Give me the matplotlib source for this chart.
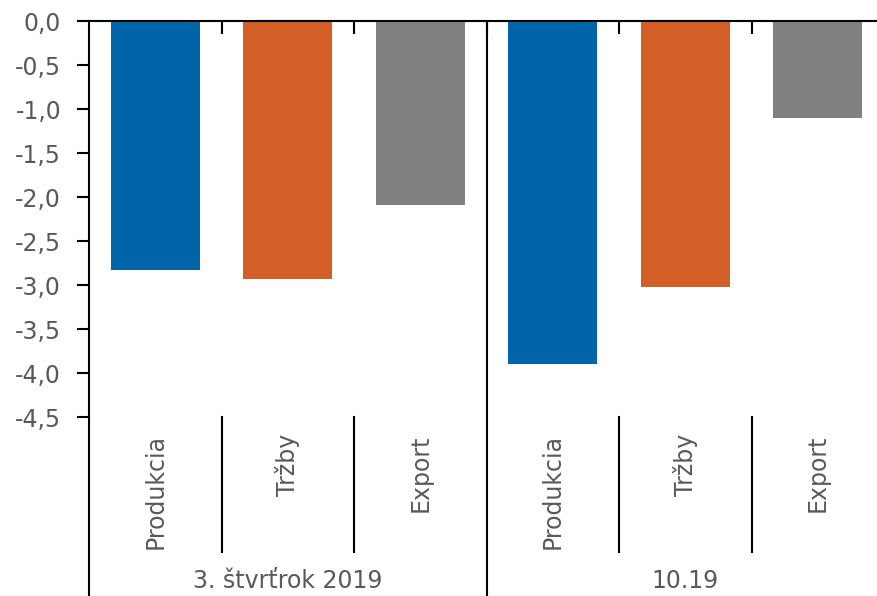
import matplotlib.pyplot as plt
from matplotlib.lines import Line2D

# hodnoty (medziročná zmena, %)
groups = ["3. štvrťrok 2019", "10.19"]
categories = ["Produkcia", "Tržby", "Export"]
values = [
    [-2.83, -2.93, -2.09],   # 3. štvrťrok 2019
    [-3.90, -3.02, -1.10],   # 10.19
]
colors = ["#0064A8", "#D35F27", "#808080"]
yticks = [0.0, -0.5, -1.0, -1.5, -2.0, -2.5, -3.0, -3.5, -4.0, -4.5]

W, H = 877, 596
fig = plt.figure(figsize=(W / 100, H / 100), dpi=100)
plt.rcParams['font.family'] = ['DejaVu Sans']
fs = 17

# os v pixeloch: vľavo 89, vpravo 884 (za okrajom), hore 21, dole 417
left, right, top, bottom = 89, 884, 21, 417
ax = fig.add_axes([left / W, 1 - bottom / H, (right - left) / W, (bottom - top) / H])

n = len(categories)
for g, vals in enumerate(values):
    for i, v in enumerate(vals):
        ax.bar(g * n + i, v, width=0.67, color=colors[i], zorder=2)

ax.set_xlim(-0.5, len(groups) * n - 0.5)
ax.set_ylim(-4.5, 0)

txt = "#595959"
ax.set_yticks(yticks)
ax.set_yticklabels([f"{t:.1f}".replace(".", ",") for t in yticks], color=txt, fontsize=fs)
ax.tick_params(axis="y", direction="out", length=9, width=1.5, pad=11)

# os x hore (nulová čiara), ryšky medzi kategóriami smerom dole
ax.xaxis.tick_top()
ax.set_xticks([k + 0.5 for k in range(len(groups) * n - 1)])
ax.set_xticklabels([])
ax.tick_params(axis="x", direction="in", length=9, width=1.5)

for s in ["right", "bottom"]:
    ax.spines[s].set_visible(False)
ax.spines["top"].set_linewidth(1.5)
ax.spines["left"].set_linewidth(1.5)

# ľavá os pokračuje až po spodok obrázka
tr = ax.get_xaxis_transform()
y_px = lambda p: 1 - (p - top) / (bottom - top)
ax.add_line(Line2D([-0.5, -0.5], [0, y_px(H)], transform=tr, color="black",
                   lw=1.5, clip_on=False))

# deliace čiary kategórií a skupín pod grafom
for g in range(len(groups)):
    for i in range(n):
        x = g * n + i
        ax.text(x, y_px(434), categories[i], rotation=90, ha="center", va="top",
                color=txt, fontsize=fs, transform=tr)
        if i < n - 1:
            ax.add_line(Line2D([x + 0.5, x + 0.5], [0, y_px(552)], transform=tr,
                               color="black", lw=1.5, clip_on=False))
    ax.text(g * n + (n - 1) / 2, y_px(581), groups[g], ha="center", va="center",
            color=txt, fontsize=fs, transform=tr)
    if g < len(groups) - 1:
        xs = g * n + n - 0.5
        ax.add_line(Line2D([xs, xs], [1, y_px(H)], transform=tr, color="black",
                           lw=1.5, clip_on=False))

fig.savefig("out.png", dpi=100)
